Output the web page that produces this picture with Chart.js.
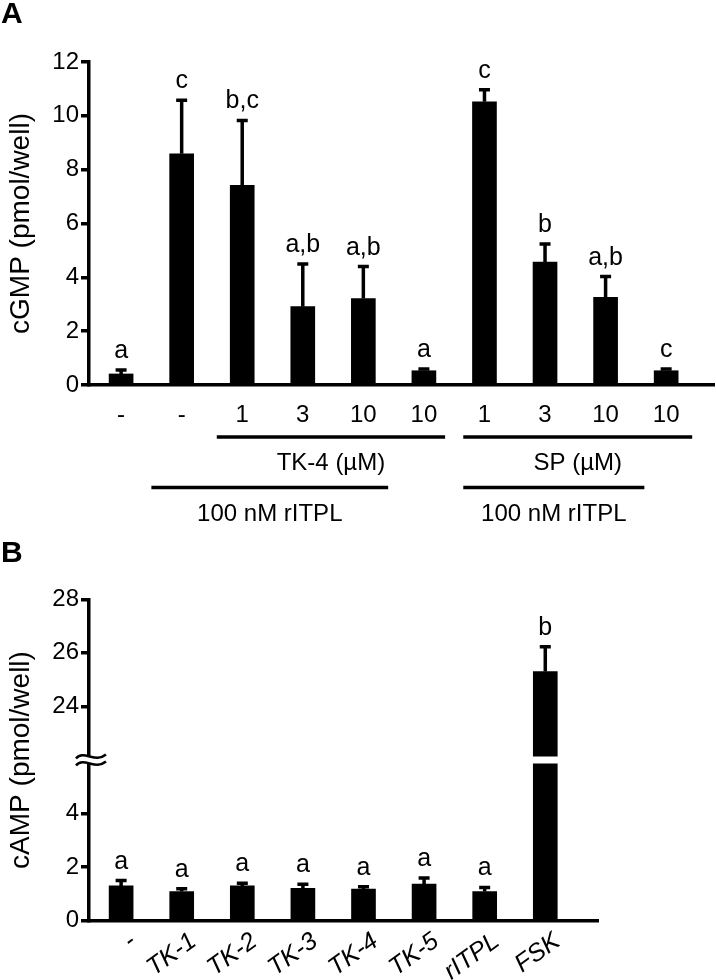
<!DOCTYPE html>
<html>
<head>
<meta charset="utf-8">
<script src="https://cdn.jsdelivr.net/npm/chart.js@4.4.0/dist/chart.umd.min.js"></script>
<style>
  html, body { margin: 0; padding: 0; background: #fff; overflow: hidden; }
  #wrap { position: relative; width: 716px; height: 980px; font-family: 'Liberation Sans', Arial, sans-serif; }
  .panel { position: absolute; left: 1px; font-weight: bold; font-size: 30px; line-height: 30px; }
  #chartA { position: absolute; left: 0; top: 0; }
  #chartB { position: absolute; left: 0; top: 540px; }
</style>
</head>
<body>
<div id="wrap">
  <canvas id="chartA" width="716" height="540"></canvas>
  <canvas id="chartB" width="716" height="440"></canvas>
  <div class="panel" style="top:-2px">A</div>
  <div class="panel" style="top:537px">B</div>
</div>
<script>
// panel A: cGMP
const cgmpLabels = ['-', '-', '1', '3', '10', '10', '1', '3', '10', '10'];
const cgmpMean = [0.41, 8.59, 7.42, 2.91, 3.21, 0.53, 10.52, 4.57, 3.26, 0.53];
const cgmpSem = [0.15, 1.99, 2.41, 1.59, 1.19, 0.06, 0.45, 0.67, 0.77, 0.06];
const cgmpLetters = ['a', 'c', 'b,c', 'a,b', 'a,b', 'a', 'c', 'b', 'a,b', 'c'];
const cgmpTicks = [0, 2, 4, 6, 8, 10, 12];

// treatment lines under panel A: text, from, to (bar index units), row
const brackets = [
  ['TK-4 (µM)', 1.58, 5.35, 0],
  ['SP (µM)', 5.65, 9.43, 0],
  ['100 nM rITPL', 0.5, 4.41, 1],
  ['100 nM rITPL', 5.65, 8.64, 1]
];

// panel B: cAMP
const campLabels = ['-', 'TK-1', 'TK-2', 'TK-3', 'TK-4', 'TK-5', 'rITPL', 'FSK'];
const campMean = [1.30, 1.09, 1.30, 1.21, 1.18, 1.37, 1.09, 25.30];
const campSem = [0.20, 0.10, 0.10, 0.15, 0.09, 0.22, 0.15, 0.93];
const campLetters = ['a', 'a', 'a', 'a', 'a', 'a', 'a', 'b'];
const campTicks = [0, 2, 4, 24, 26, 28];
const campBreak = [6, 22];

const FONT = "'Liberation Sans', Arial, sans-serif";
const ink = '#000';
Chart.defaults.font.family = FONT;
Chart.defaults.color = ink;

// linear scale with a cut-out between campBreak[0] and campBreak[1]
class BrokenScale extends Chart.LinearScale {
  squash(v) {
    const [lo, hi] = campBreak;
    return v <= lo ? v : (v >= hi ? v - (hi - lo) : lo);
  }
  getPixelForValue(v) {
    if (v === null || isNaN(v)) return NaN;
    const span = this.max - this.min - (campBreak[1] - campBreak[0]);
    return this.getPixelForDecimal((this.squash(v) - this.min) / span);
  }
  getValueForPixel(p) {
    const span = this.max - this.min - (campBreak[1] - campBreak[0]);
    const v = this.min + this.getDecimalForPixel(p) * span;
    return v <= campBreak[0] ? v : v + (campBreak[1] - campBreak[0]);
  }
}
BrokenScale.id = 'brokenLinear';
BrokenScale.defaults = Chart.LinearScale.defaults;
Chart.register(BrokenScale);

function errorBars(sem, letters) {
  return {
    id: 'errbars',
    afterDatasetsDraw(chart) {
      const { ctx, scales: { x, y } } = chart;
      const pts = chart.data.datasets[0].data;
      ctx.save();
      ctx.strokeStyle = ink;
      ctx.fillStyle = ink;
      ctx.lineWidth = 3.5;
      ctx.font = '25px ' + FONT;
      ctx.textAlign = 'center';
      ctx.textBaseline = 'alphabetic';
      pts.forEach((p, i) => {
        const px = x.getPixelForValue(p.x);
        const y0 = y.getPixelForValue(p.y);
        const y1 = y.getPixelForValue(p.y + sem[i]);
        ctx.beginPath();
        ctx.moveTo(px, y0);
        ctx.lineTo(px, y1);
        ctx.moveTo(px - 5.5, y1);
        ctx.lineTo(px + 5.5, y1);
        ctx.stroke();
        ctx.fillText(letters[i], px, y1 - 12);
      });
      ctx.restore();
    }
  };
}

const bracketPlugin = {
  id: 'brackets',
  afterDraw(chart) {
    const { ctx, chartArea, scales: { x } } = chart;
    ctx.save();
    ctx.strokeStyle = ink;
    ctx.fillStyle = ink;
    ctx.lineWidth = 3.5;
    ctx.font = '24px ' + FONT;
    ctx.textAlign = 'center';
    ctx.textBaseline = 'middle';
    brackets.forEach(([text, from, to, row]) => {
      const x0 = x.getPixelForValue(from);
      const x1 = x.getPixelForValue(to);
      const ly = chartArea.bottom + 52 + row * 50.5;
      ctx.beginPath();
      ctx.moveTo(x0, ly);
      ctx.lineTo(x1, ly);
      ctx.stroke();
      ctx.fillText(text, (x0 + x1) / 2, ly + 26.5);
    });
    ctx.restore();
  }
};

// slanted italic category names under panel B
const slantLabels = {
  id: 'slantLabels',
  afterDraw(chart) {
    const { ctx, chartArea, scales: { x } } = chart;
    ctx.save();
    ctx.fillStyle = ink;
    ctx.font = 'italic 25px ' + FONT;
    ctx.textAlign = 'right';
    ctx.textBaseline = 'middle';
    campLabels.forEach((t, i) => {
      ctx.save();
      ctx.translate(x.getPixelForValue(i) + 12, chartArea.bottom + 18);
      ctx.rotate(-36 * Math.PI / 180);
      ctx.fillText(t, 0, 0);
      ctx.restore();
    });
    ctx.restore();
  }
};

const breakPlugin = {
  id: 'axisBreak',
  afterDraw(chart) {
    const { ctx, chartArea, scales: { y } } = chart;
    const yb = y.getPixelForValue(campBreak[0]);
    const ax = chartArea.left;
    ctx.save();
    ctx.fillStyle = '#fff';
    chart.getDatasetMeta(0).data.forEach((bar, i) => {
      if (campMean[i] > campBreak[1]) {
        ctx.fillRect(bar.x - bar.width / 2 - 1, yb - 3.5, bar.width + 2, 7);
      }
    });
    ctx.fillRect(ax - 3, yb - 4, 6, 8);
    ctx.strokeStyle = ink;
    ctx.lineWidth = 2.5;
    [-3.5, 3.5].forEach(d => {
      ctx.beginPath();
      ctx.moveTo(ax - 13, yb + d + 2);
      ctx.bezierCurveTo(ax - 5, yb + d - 7, ax + 6, yb + d + 7, ax + 17, yb + d - 2);
      ctx.stroke();
    });
    ctx.restore();
  }
};

function yAxis(title, ticks, extra) {
  return Object.assign({
    afterBuildTicks: s => { s.ticks = ticks.map(v => ({ value: v })); },
    afterFit: s => { s.width = 89; },
    grid: { drawOnChartArea: false, color: ink, lineWidth: 3.5, tickLength: 8 },
    border: { color: ink, width: 3.5 },
    ticks: { padding: 2, color: ink, font: { size: 24 } },
    title: { display: true, text: title, color: ink, font: { size: 28 }, padding: { top: 4, bottom: 0 } }
  }, extra);
}

function xAxis(labels, max, height, tickExtra) {
  return {
    type: 'linear',
    offset: false,
    min: -0.53,
    max: max,
    afterBuildTicks: s => { s.ticks = labels.map((_, i) => ({ value: i })); },
    afterFit: s => { s.height = height; },
    grid: { display: false, drawTicks: false },
    border: { color: ink, width: 3.5 },
    ticks: Object.assign({
      autoSkip: false, padding: 16, color: ink, font: { size: 24 },
      maxRotation: 0, minRotation: 0,
      callback: (v, i) => labels[i]
    }, tickExtra)
  };
}

new Chart(document.getElementById('chartA'), {
  type: 'bar',
  data: {
    datasets: [{
      data: cgmpMean.map((v, i) => ({ x: i, y: v })),
      backgroundColor: ink,
      barThickness: 24
    }]
  },
  options: {
    responsive: false,
    animation: false,
    layout: { padding: { top: 62, right: 2, bottom: 115, left: 0 } },
    plugins: { legend: { display: false }, tooltip: { enabled: false } },
    scales: {
      x: xAxis(cgmpLabels, 9.79, 40, {}),
      y: yAxis('cGMP (pmol/well)', cgmpTicks, { min: 0, max: 12 })
    }
  },
  plugins: [errorBars(cgmpSem, cgmpLetters), bracketPlugin]
});

new Chart(document.getElementById('chartB'), {
  type: 'bar',
  data: {
    datasets: [{
      data: campMean.map((v, i) => ({ x: i, y: v })),
      backgroundColor: ink,
      barThickness: 24
    }]
  },
  options: {
    responsive: false,
    animation: false,
    layout: { padding: { top: 59.3, right: 118, bottom: 0, left: 0 } },
    plugins: { legend: { display: false }, tooltip: { enabled: false } },
    scales: {
      x: xAxis(campLabels, 7.87, 59.3, { display: false }),
      y: yAxis('cAMP (pmol/well)', campTicks, { type: 'brokenLinear', min: 0, max: 28 })
    }
  },
  plugins: [errorBars(campSem, campLetters), breakPlugin, slantLabels]
});
</script>
</body>
</html>
